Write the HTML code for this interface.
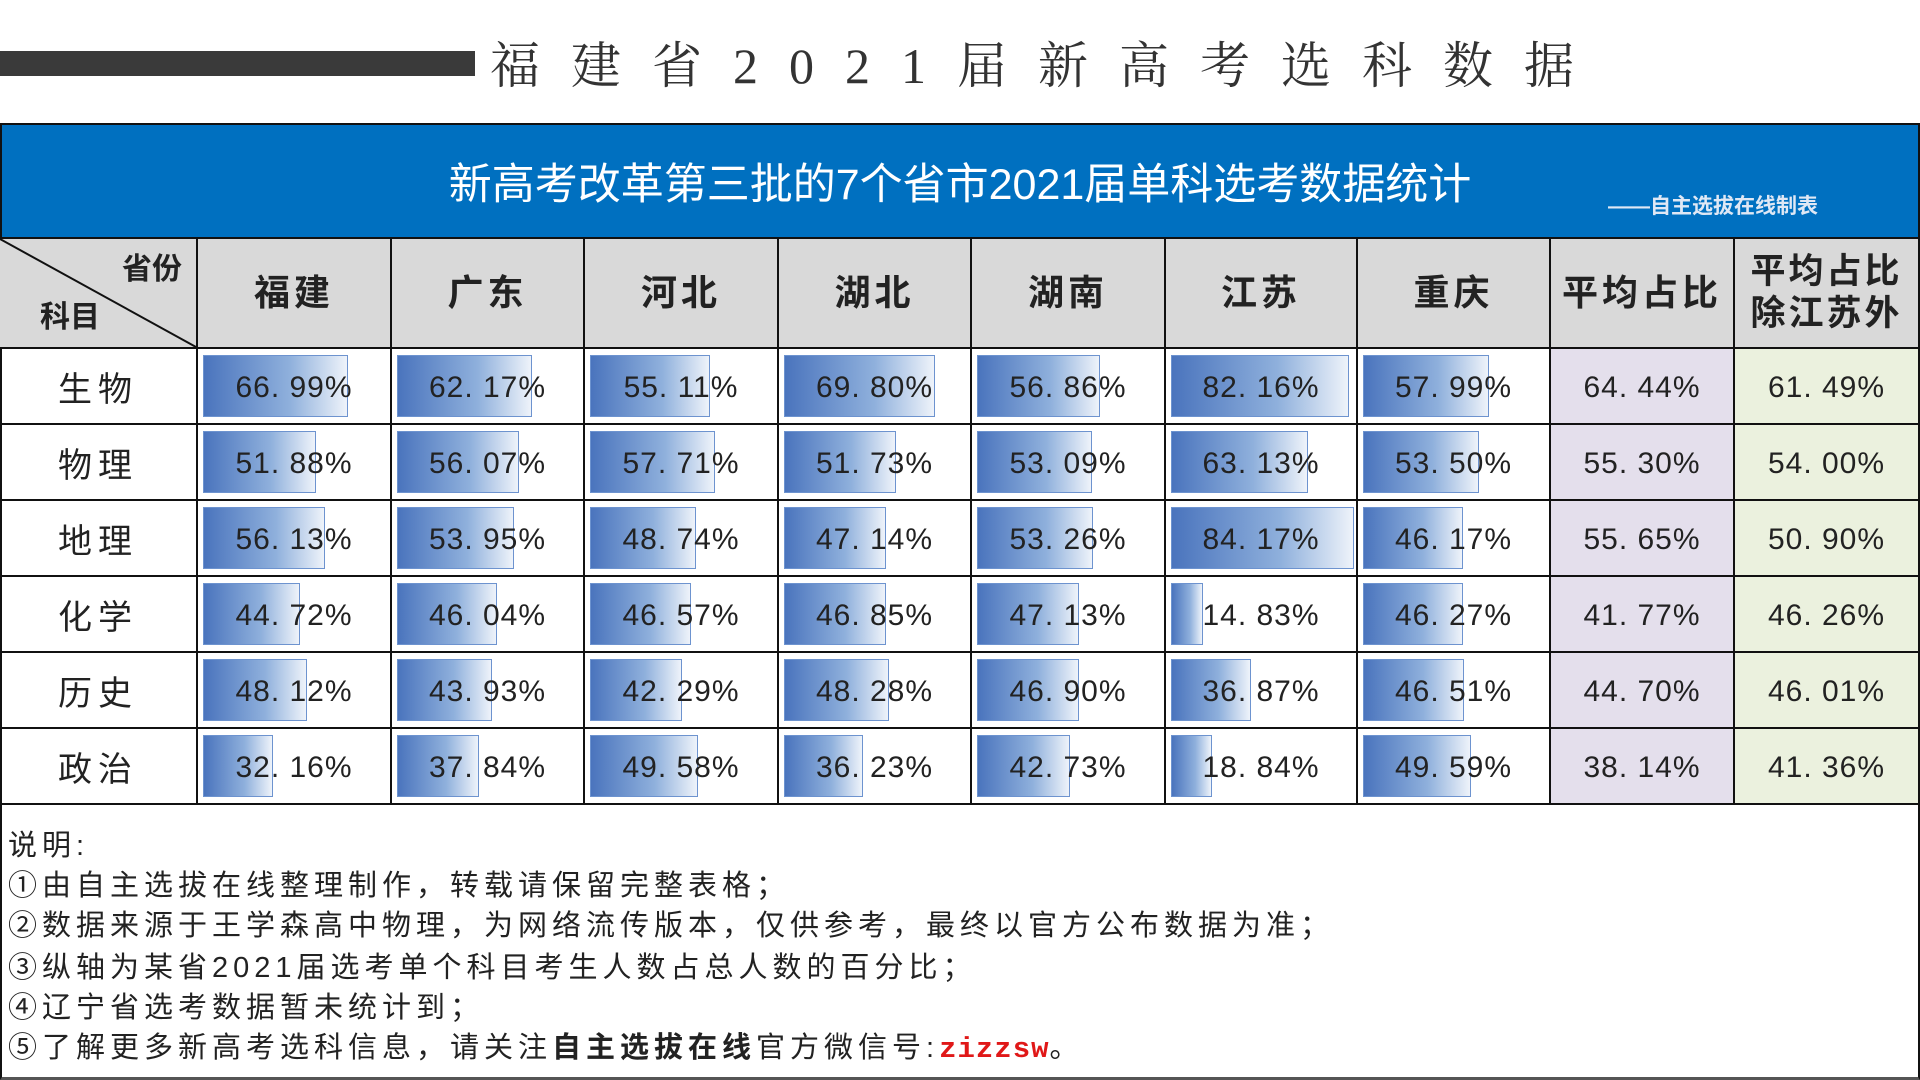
<!DOCTYPE html>
<html><head><meta charset="utf-8"><style>
*{margin:0;padding:0;box-sizing:border-box}
body{width:1920px;height:1080px;background:#fff;position:relative;overflow:hidden;font-family:"Liberation Sans","Noto Sans CJK SC",sans-serif;color:#222}
.abs{position:absolute}
#bar{left:0;top:51px;width:475px;height:25px;background:#3a3a3a}
#title{left:490px;top:34px;font-family:"Liberation Serif","Noto Serif CJK SC",serif;font-size:50px;letter-spacing:31px;color:#333;white-space:nowrap;line-height:64px}
#tbl{left:0;top:123px;width:1920px;height:682px;border:2px solid #111}
#blue{left:0;top:123px;width:1920px;height:116px;background:#0070c0;border:2px solid #111}
#h1{left:0;top:157px;width:1920px;text-align:center;color:#fff;font-size:43px;line-height:56px;white-space:nowrap}
#h2{left:1608px;top:190px;color:#dfe8f5;font-size:21px;font-weight:bold;white-space:nowrap}
.cell{position:absolute;border-right:2px solid #111;border-bottom:2px solid #111;display:flex;align-items:center;justify-content:center}
.hd{background:#d9d9d9;font-weight:bold;font-size:36px;letter-spacing:4px;text-align:center;line-height:42px}
.lab{font-size:34px;letter-spacing:6px}
.num{font-size:30px;letter-spacing:1px;position:absolute;border-right:2px solid #111;border-bottom:2px solid #111}
.num span{position:absolute;left:0;right:0;top:0;bottom:0;display:flex;align-items:center;justify-content:center;padding-top:4px}
.b{position:absolute;left:5px;top:6px;bottom:6px;background:linear-gradient(90deg,#4a74bd,#8fb0dc 60%,#eef3fa);border:1px solid #6d93cf}
.notes{left:8px;font-size:29px;letter-spacing:5px;white-space:nowrap;color:#222}
</style></head><body>
<div id="bar" class="abs"></div>
<div id="title" class="abs">福建省2021届新高考选科数据</div>
<div id="tbl" class="abs"></div>
<div id="blue" class="abs"></div>
<div id="h1" class="abs">新高考改革第三批的7个省市2021届单科选考数据统计</div>
<div id="h2" class="abs">——自主选拔在线制表</div>
<div id="grid"></div>
<div class="abs" style="left:0;top:805px;width:1920px;height:275px;border-left:2px solid #111;border-right:2px solid #111;border-bottom:3px solid #555"></div>
<div class="abs notes" style="top:822px">说明:</div>
<div class="abs notes" style="top:862px">①由自主选拔在线整理制作，转载请保留完整表格；</div>
<div class="abs notes" style="top:902px">②数据来源于王学森高中物理，为网络流传版本，仅供参考，最终以官方公布数据为准；</div>
<div class="abs notes" style="top:944px">③纵轴为某省2021届选考单个科目考生人数占总人数的百分比；</div>
<div class="abs notes" style="top:984px">④辽宁省选考数据暂未统计到；</div>
<div class="abs notes" style="top:1024px">⑤了解更多新高考选科信息，请关注<b>自主选拔在线</b>官方微信号:<b style="color:#e01818;font-family:'Liberation Mono',monospace;letter-spacing:1px">zizzsw</b>。</div>
<script>
var cols=[0,198,392,585,779,972,1166,1358,1551,1735,1920];
var rows=[239,349,425,501,577,653,729,805];
var heads=["福建","广东","河北","湖北","湖南","江苏","重庆","平均占比","平均占比<br>除江苏外"];
var labs=["生物","物理","地理","化学","历史","政治"];
var d=[[66.99,62.17,55.11,69.80,56.86,82.16,57.99,64.44,61.49],
[51.88,56.07,57.71,51.73,53.09,63.13,53.50,55.30,54.00],
[56.13,53.95,48.74,47.14,53.26,84.17,46.17,55.65,50.90],
[44.72,46.04,46.57,46.85,47.13,14.83,46.27,41.77,46.26],
[48.12,43.93,42.29,48.28,46.90,36.87,46.51,44.70,46.01],
[32.16,37.84,49.58,36.23,42.73,18.84,49.59,38.14,41.36]];
var h='';
h+='<div class="cell hd" style="left:0;top:239px;width:198px;height:110px;display:block"><svg width="196" height="108" style="position:absolute;left:0;top:0"><line x1="0" y1="0" x2="196" y2="108" stroke="#111" stroke-width="2"/></svg><div style="position:absolute;right:14px;top:10px;font-size:30px;letter-spacing:0">省份</div><div style="position:absolute;left:40px;bottom:8px;font-size:30px;letter-spacing:0">科目</div></div>';
for(var c=0;c<9;c++){h+='<div class="cell hd" style="left:'+cols[c+1]+'px;top:239px;width:'+(cols[c+2]-cols[c+1])+'px;height:110px;'+(c==8?'font-size:35px;letter-spacing:3px':'')+'">'+heads[c]+'</div>';}
for(var r=0;r<6;r++){
 var t=rows[r+1],hh=rows[r+2]-t;
 h+='<div class="cell lab" style="left:0;top:'+t+'px;width:198px;height:'+hh+'px">'+labs[r]+'</div>';
 for(var c=0;c<9;c++){
  var l=cols[c+1],w=cols[c+2]-l;
  var bg=c==7?'#e4dfec':(c==8?'#ebf1de':'#fff');
  var bar=c<7?'<div class="b" style="width:'+Math.round(d[r][c]*2.17)+'px"></div>':'';
  h+='<div class="num" style="left:'+l+'px;top:'+t+'px;width:'+w+'px;height:'+hh+'px;background:'+bg+'">'+bar+'<span>'+d[r][c].toFixed(2).replace('.','. ')+'%</span></div>';
 }
}
document.getElementById('grid').innerHTML=h;
</script>
</body></html>
